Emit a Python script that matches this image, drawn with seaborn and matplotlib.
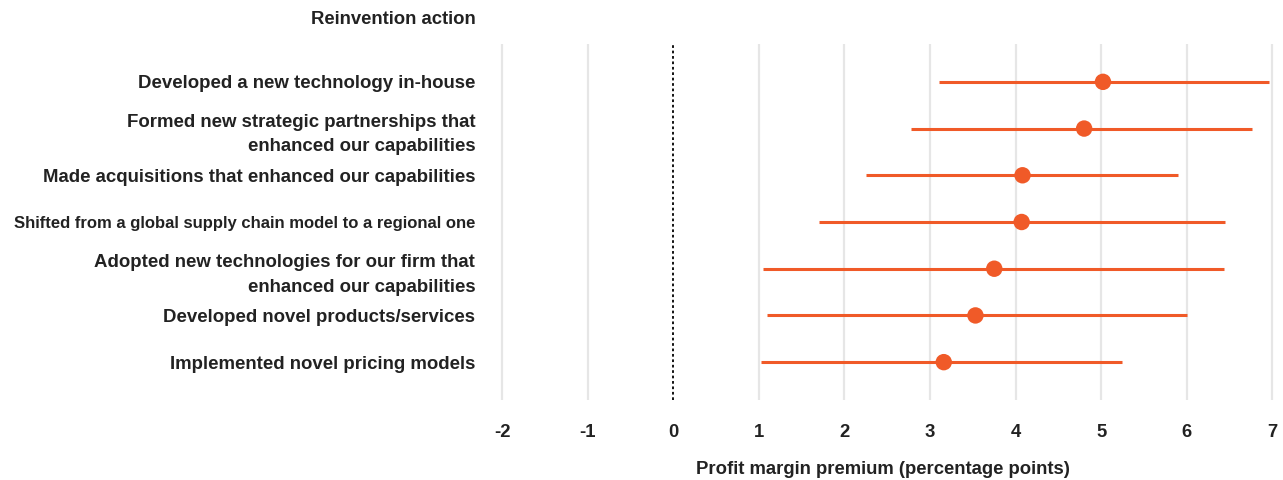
import numpy as np
import pandas as pd
import matplotlib
matplotlib.use("Agg")
import matplotlib.pyplot as plt
import seaborn as sns

# Data
actions = [
    "Developed a new technology in-house",
    "Formed new strategic partnerships that\nenhanced our capabilities",
    "Made acquisitions that enhanced our capabilities",
    "Shifted from a global supply chain model to a regional one",
    "Adopted new technologies for our firm that\nenhanced our capabilities",
    "Developed novel products/services",
    "Implemented novel pricing models",
]
premium = [5.02, 4.80, 4.08, 4.07, 3.75, 3.53, 3.16]
ci_low = [3.11, 2.78, 2.25, 1.70, 1.05, 1.10, 1.03]
ci_high = [6.96, 6.76, 5.90, 6.44, 6.43, 6.00, 5.24]
xticks = [-2, -1, 0, 1, 2, 3, 4, 5, 6, 7]

df = pd.DataFrame({"action": actions, "premium": premium,
                   "low": ci_low, "high": ci_high})

orange = "#F05A28"
text_col = "#222222"

sns.set_style("white")
plt.rcParams["font.family"] = ["Liberation Sans", "DejaVu Sans"]
plt.rcParams["font.weight"] = "bold"

fig = plt.figure(figsize=(12.83, 4.80), dpi=100)
ax = fig.add_axes([485 / 1283, 1 - 400 / 480, (1281 - 485) / 1283, (400 - 44) / 480])

ypos = np.arange(len(actions))
ax.hlines(ypos, df["low"], df["high"], color=orange, lw=2.2, zorder=2)
sns.scatterplot(data=df, x="premium", y=ypos, color=orange, s=140,
                edgecolor="none", ax=ax, zorder=3)

ax.axvline(0, color="black", lw=1.3, ls=(0, (1.5, 1.5)), zorder=1)
for t in xticks:
    if t != 0:
        ax.axvline(t, color="#e6e6e6", lw=1.6, zorder=0)

ax.set_xlim(-2.2, 7.1)
ax.set_ylim(len(actions) - 0.19, -0.81)
ax.set_xticks(xticks)
ax.set_xticklabels([str(t) for t in xticks], fontsize=13.3, fontweight="bold",
                   color=text_col)
ax.set_yticks(ypos)
ax.set_yticklabels(actions, fontsize=13.4, fontweight="bold", color=text_col,
                   linespacing=1.6)
for lab in ax.get_yticklabels():
    if lab.get_text().startswith("Shifted"):
        lab.set_fontsize(12)
ax.tick_params(axis="both", length=0)
ax.tick_params(axis="y", pad=7)
ax.tick_params(axis="x", pad=17)
for s in ax.spines.values():
    s.set_visible(False)

ax.set_xlabel("Profit margin premium (percentage points)", fontsize=13.3,
              fontweight="bold", color=text_col, labelpad=15)
ax.set_ylabel("")
fig.text(476 / 1283, 1 - 20 / 480, "Reinvention action", ha="right",
         va="center", fontsize=13.3, fontweight="bold", color=text_col)

fig.savefig("out.png", dpi=100)
